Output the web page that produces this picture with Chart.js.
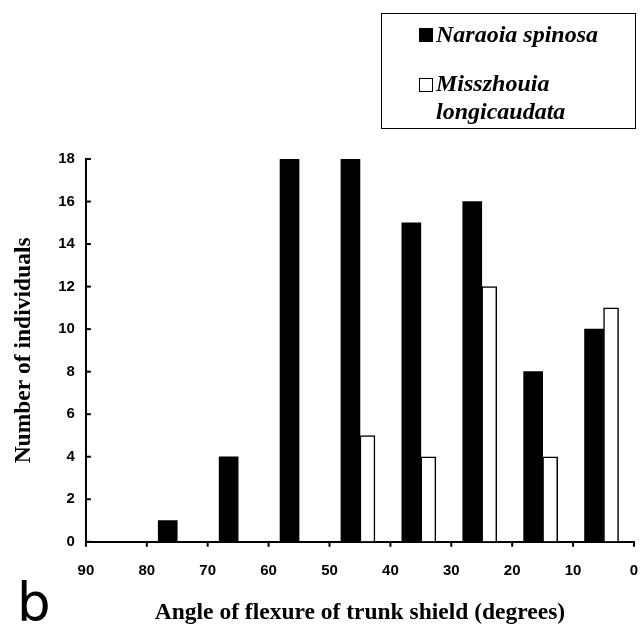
<!DOCTYPE html>
<html>
<head>
<meta charset="utf-8">
<script src="https://cdn.jsdelivr.net/npm/chart.js@4/dist/chart.umd.min.js"></script>
<style>
  html, body { margin: 0; padding: 0; background: #fff; }
  #wrap { position: relative; width: 640px; height: 627px; overflow: hidden; }
  #legend {
    position: absolute; left: 381px; top: 13px; width: 253px; height: 114px;
    border: 1px solid #000; font-family: "Liberation Serif", serif;
    font-weight: bold; font-style: italic; font-size: 24px; color: #000;
  }
  .sq { position: absolute; left: 37px; width: 14px; height: 14px; box-sizing: border-box; border: 1px solid #000; }
  .txt { position: absolute; left: 54px; line-height: 28px; white-space: nowrap; }
  #panel { position: absolute; left: 17px; top: 576px; line-height: 1; font-family: "DejaVu Sans", sans-serif; font-size: 53px; color: #000; }
</style>
</head>
<body>
<div id="wrap">
  <canvas id="myChart" width="640" height="627"></canvas>
  <div id="legend"></div>
  <div id="panel">b</div>
</div>
<script>
// bin centres, 10 degree classes from 90-80 down to 10-0
var binCentres = [85, 75, 65, 55, 45, 35, 25, 15, 5];
var naraoia = [null, 1, 4, 18, 18, 15, 16, 8, 10];
var misszhouia = [null, null, null, null, 5, 4, 12, 4, 11];
var seriesNames = [["Naraoia spinosa"], ["Misszhouia", "longicaudata"]];
var xTicks = [0, 10, 20, 30, 40, 50, 60, 70, 80, 90];
var yTicks = [0, 2, 4, 6, 8, 10, 12, 14, 16, 18];

function points(values) {
  return binCentres.map(function (c, i) { return { x: c, y: values[i] }; });
}

// short tick marks: inward on y, downward on x
var tickMarks = {
  id: 'tickMarks',
  afterDraw: function (chart) {
    var ctx = chart.ctx;
    var x = chart.scales.x;
    var y = chart.scales.y;
    ctx.save();
    ctx.strokeStyle = '#000';
    ctx.lineWidth = 2;
    yTicks.forEach(function (v) {
      var py = y.getPixelForValue(v);
      ctx.beginPath();
      ctx.moveTo(y.right, py);
      ctx.lineTo(y.right + 5, py);
      ctx.stroke();
    });
    xTicks.forEach(function (v) {
      var px = x.getPixelForValue(v);
      ctx.beginPath();
      ctx.moveTo(px, x.top);
      ctx.lineTo(px, x.top + 5);
      ctx.stroke();
    });
    ctx.restore();
  }
};

var ctx = document.getElementById("myChart");
var myChart = new Chart(ctx, {
  type: 'bar',
  data: {
    datasets: [
      {
        label: seriesNames[0].join(' '),
        data: points(naraoia),
        backgroundColor: '#000',
        borderColor: '#000',
        borderWidth: 0,
        barThickness: 19
      },
      {
        label: seriesNames[1].join(' '),
        data: points(misszhouia),
        backgroundColor: '#fff',
        borderColor: '#000',
        borderWidth: 1.5,
        borderSkipped: 'bottom',
        barThickness: 15
      }
    ]
  },
  plugins: [tickMarks],
  options: {
    responsive: false,
    animation: false,
    layout: { padding: { top: 159, right: 6, left: 10, bottom: 0 } },
    plugins: {
      legend: { display: false },
      tooltip: { enabled: false }
    },
    scales: {
      x: {
        type: 'linear',
        reverse: true,
        min: 0,
        max: 90,
        offset: false,
        ticks: {
          stepSize: 10,
          color: '#000',
          font: { family: 'Liberation Sans', weight: 'bold', size: 15 },
          maxRotation: 0,
          padding: 0
        },
        grid: { drawOnChartArea: false, tickLength: 20, tickColor: 'rgba(0,0,0,0)' },
        border: { color: '#000', width: 2 },
        title: {
          display: true,
          text: 'Angle of flexure of trunk shield (degrees)',
          color: '#000',
          font: { family: 'Liberation Serif', weight: 'bold', size: 23.5 },
          padding: { top: 19, bottom: 0 }
        }
      },
      y: {
        min: 0,
        max: 18,
        ticks: {
          stepSize: 2,
          color: '#000',
          font: { family: 'Liberation Sans', weight: 'bold', size: 15 },
          padding: 11
        },
        grid: { drawOnChartArea: false, drawTicks: false },
        border: { color: '#000', width: 2 },
        title: {
          display: true,
          text: 'Number of individuals',
          color: '#000',
          font: { family: 'Liberation Serif', weight: 'bold', size: 23.5 },
          padding: { top: 0, bottom: 9 }
        }
      }
    }
  }
});

// legend box built from the series names
var leg = document.getElementById('legend');
var sqTops = [14, 64];
var txtTops = [6, 55];
var fills = ['#000', '#fff'];
seriesNames.forEach(function (lines, i) {
  var sq = document.createElement('div');
  sq.className = 'sq';
  sq.style.top = sqTops[i] + 'px';
  sq.style.background = fills[i];
  leg.appendChild(sq);
  var t = document.createElement('div');
  t.className = 'txt';
  t.style.top = txtTops[i] + 'px';
  t.innerHTML = lines.join('<br>');
  leg.appendChild(t);
});
</script>
</body>
</html>
